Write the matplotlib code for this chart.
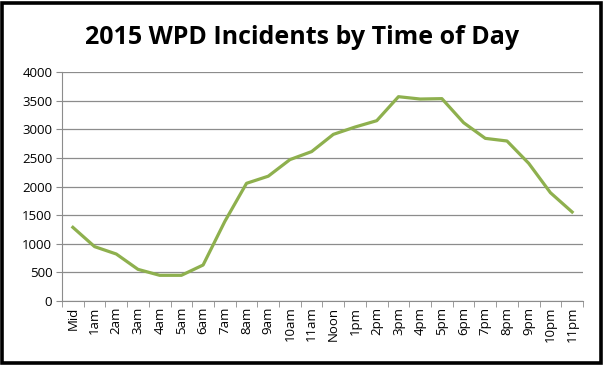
import matplotlib.pyplot as plt
import numpy as np
from matplotlib.patches import Rectangle

# 2015 WPD incidents per hour of day
hours = ['Mid', '1am', '2am', '3am', '4am', '5am', '6am', '7am', '8am', '9am',
         '10am', '11am', 'Noon', '1pm', '2pm', '3pm', '4pm', '5pm', '6pm', '7pm',
         '8pm', '9pm', '10pm', '11pm']
incidents = [1287, 950, 821, 553, 449, 449, 629, 1390, 2056, 2180,
             2470, 2610, 2911, 3039, 3150, 3569, 3528, 3535, 3115, 2841,
             2795, 2405, 1892, 1555]

plt.rcParams['font.family'] = ['Open Sans', 'DejaVu Sans']

fig = plt.figure(figsize=(6.05, 3.65), dpi=100)
ax = fig.add_axes([0.1025, 0.1753, 0.8611, 0.6274])

x = np.arange(len(hours))
ax.plot(x, incidents, color='#8EB04E', linewidth=2.3, solid_joinstyle='round')

ax.set_xlim(-0.5, len(hours) - 0.5)
ax.set_ylim(0, 4000)
ax.set_yticks(range(0, 4001, 500))
ax.yaxis.grid(True, color='#8C8C8C', linewidth=0.9)
ax.set_axisbelow(True)

# labels at centres, tick marks on category boundaries
ax.set_xticks(x)
ax.set_xticklabels(hours, rotation=90, fontsize=9.5)
ax.set_xticks(np.arange(-0.5, len(hours)), minor=True)
ax.tick_params(axis='x', which='major', length=0, pad=4)
ax.tick_params(axis='x', which='minor', length=4, color='#8C8C8C')
ax.tick_params(axis='y', length=4, color='#8C8C8C', labelsize=9.5, pad=3)

for side in ['top', 'right']:
    ax.spines[side].set_visible(False)
for side in ['left', 'bottom']:
    ax.spines[side].set_color('#8C8C8C')

fig.text(0.5, 0.898, '2015 WPD Incidents by Time of Day', ha='center', va='center',
         fontsize=18, fontweight='bold')

# black frame round the chart
fig.patches.append(Rectangle((0.004, 0.006), 0.989, 0.986, transform=fig.transFigure,
                             fill=False, edgecolor='black', linewidth=2.6,
                             joinstyle='miter'))

fig.savefig('out.png', dpi=100)
